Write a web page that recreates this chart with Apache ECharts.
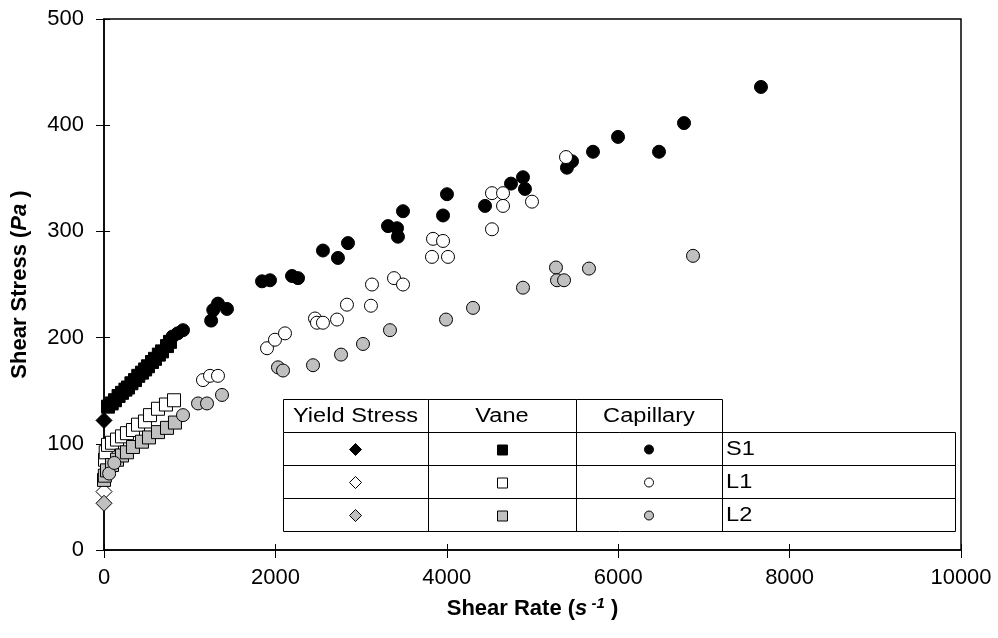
<!DOCTYPE html>
<html>
<head>
<meta charset="utf-8">
<script src="https://cdn.jsdelivr.net/npm/echarts@6/dist/echarts.min.js"></script>
<style>
  html, body { margin: 0; padding: 0; background: #fff; }
  #main { width: 998px; height: 638px; }
</style>
</head>
<body>
<div id="main"></div>
<script>
// values: [shear rate (1/s), shear stress (Pa)]
const yieldS1 = [[0, 122]]
const yieldL1 = [[0, 55]]
const yieldL2 = [[0, 44]]

const vaneS1 = [[47, 135], [90, 138], [128, 141], [170, 145], [210, 148], [250, 151], [280, 153], [320, 157], [362, 160], [400, 164],
  [443, 167], [480, 170], [513, 173], [560, 177], [595, 180], [640, 184], [677, 187], [735, 192], [770, 196]]
const vaneL1 = [[12, 85], [20, 92], [47, 99], [93, 101], [152, 104], [210, 107], [268, 110], [338, 113], [397, 118],
  [478, 121], [537, 127], [630, 133], [723, 137], [817, 141]]
const vaneL2 = [[0, 66], [10, 70], [35, 75], [93, 80], [152, 85], [210, 89], [268, 92], [338, 97], [443, 102],
  [525, 106], [630, 111], [735, 115], [828, 120]]

const capS1 = [[800, 201], [860, 204], [922, 207], [1250, 216], [1275, 226], [1330, 232], [1435, 227], [1844, 253], [1937, 254],
  [2194, 258], [2264, 256], [2555, 282], [2730, 275], [2847, 289], [3314, 305], [3419, 303], [3430, 295],
  [3489, 319], [3956, 315], [4002, 335], [4446, 324], [4749, 345], [4889, 351], [4912, 340], [5402, 360],
  [5461, 366], [5706, 375], [5998, 389], [6476, 375], [6768, 402], [7666, 436]]
const capL1 = [[1155, 160], [1237, 164], [1330, 164], [1902, 190], [1995, 198], [2112, 204], [2462, 218], [2485, 214],
  [2555, 214], [2719, 217], [2835, 231], [3115, 230], [3127, 250], [3384, 256], [3489, 250], [3839, 293],
  [3956, 291], [3827, 276], [4014, 276], [4527, 302], [4527, 336], [4656, 336], [4656, 324], [4994, 328], [5391, 370]]
const capL2 = [[60, 72], [120, 82], [922, 127], [1097, 138], [1202, 138], [1377, 146], [2030, 172], [2089, 169],
  [2439, 174], [2766, 184], [3022, 194], [3337, 207], [3991, 217], [4306, 228], [4889, 247], [5274, 266],
  [5286, 254], [5368, 254], [5659, 265], [6873, 277]]

const xTicks = [0, 2000, 4000, 6000, 8000, 10000]
const yTicks = [0, 100, 200, 300, 400, 500]
const tableCols = ['Yield Stress', 'Vane', 'Capillary']
const tableRows = ['S1', 'L1', 'L2']

const BLACK = '#000000'
const WHITE = '#ffffff'
const GREY = '#c0c0c0'
const FONT = 'Liberation Sans, Arial, sans-serif'

function pts (name, data, symbol, fill, size) {
  return {
    name: name,
    type: 'scatter',
    data: data,
    symbol: symbol,
    symbolSize: size,
    itemStyle: { color: fill, borderColor: BLACK, borderWidth: 1, opacity: 1 },
    emphasis: { disabled: true }
  }
}

// legend table (drawn as graphic), pixel layout
const tbl = { left: 283, right: 955, top: 399, head: 432, rowH: 33, cols: [283, 428, 576, 722] }
const legendSyms = ['diamond', 'rect', 'circle']
const legendFill = [BLACK, WHITE, GREY]
const symSize = { diamond: 6, rect: 5, circle: 4.5 }

function tableGraphic () {
  const g = []
  const lineStyle = { stroke: BLACK, lineWidth: 1 }
  // header cells
  for (let i = 0; i < 3; i++) {
    g.push({ type: 'rect', shape: { x: tbl.cols[i] + 0.5, y: tbl.top + 0.5, width: tbl.cols[i + 1] - tbl.cols[i], height: tbl.head - tbl.top }, style: { fill: WHITE, ...lineStyle } })
    g.push({ type: 'text', x: (tbl.cols[i] + tbl.cols[i + 1]) / 2, y: (tbl.top + tbl.head) / 2 + 1, scaleX: 1.18, style: { text: tableCols[i], font: '20px ' + FONT, fill: BLACK, align: 'center', verticalAlign: 'middle' } })
  }
  // body
  const bodyBottom = tbl.head + tbl.rowH * 3
  g.push({ type: 'rect', shape: { x: tbl.left + 0.5, y: tbl.head + 0.5, width: tbl.right - tbl.left, height: bodyBottom - tbl.head }, style: { fill: WHITE, ...lineStyle } })
  for (let r = 1; r < 3; r++) {
    const y = tbl.head + tbl.rowH * r + 0.5
    g.push({ type: 'line', shape: { x1: tbl.left, y1: y, x2: tbl.right, y2: y }, style: lineStyle })
  }
  for (let c = 1; c < 4; c++) {
    const x = tbl.cols[c] + 0.5
    g.push({ type: 'line', shape: { x1: x, y1: tbl.head, x2: x, y2: bodyBottom }, style: lineStyle })
  }
  for (let r = 0; r < 3; r++) {
    const cy = tbl.head + tbl.rowH * r + tbl.rowH / 2 + 1
    g.push({ type: 'text', x: tbl.cols[3] + 4, y: cy, scaleX: 1.18, style: { text: tableRows[r], font: '20px ' + FONT, fill: BLACK, align: 'left', verticalAlign: 'middle' } })
    for (let c = 0; c < 3; c++) {
      const cx = (tbl.cols[c] + tbl.cols[c + 1]) / 2
      const s = legendSyms[c]
      const h = symSize[s]
      const st = { fill: legendFill[r], stroke: BLACK, lineWidth: 1 }
      if (s === 'diamond') {
        g.push({ type: 'polygon', shape: { points: [[cx, cy - h], [cx + h, cy], [cx, cy + h], [cx - h, cy]] }, style: st })
      } else if (s === 'rect') {
        g.push({ type: 'rect', shape: { x: cx - h + 0.5, y: cy - h + 0.5, width: h * 2, height: h * 2 }, style: st })
      } else {
        g.push({ type: 'circle', shape: { cx: cx, cy: cy, r: h }, style: st })
      }
    }
  }
  return g
}

const chart = echarts.init(document.getElementById('main'), null, { renderer: 'canvas' })

const axisCommon = {
  axisLine: { show: true, lineStyle: { color: BLACK, width: 1.5 } },
  splitLine: { show: false }
}

const option = {
  animation: false,
  backgroundColor: WHITE,
  textStyle: { fontFamily: FONT },
  grid: { left: 104, right: 37, top: 19, bottom: 88, show: true, borderColor: BLACK, borderWidth: 1.5, backgroundColor: 'transparent' },
  xAxis: [
    {
      ...axisCommon,
      type: 'value', min: xTicks[0], max: xTicks[xTicks.length - 1], interval: 2000,
      axisTick: { show: true, inside: false, length: 8, lineStyle: { color: BLACK, width: 1 } },
      axisLabel: { color: BLACK, fontSize: 22, margin: 17, fontFamily: FONT, formatter: v => String(v) },
      name: '{b|Shear Rate (}{i|s}{sup| -1}{b| )}',
      nameLocation: 'middle',
      nameGap: 46,
      nameTextStyle: {
        rich: {
          b: { fontSize: 22, fontWeight: 'bold', fontFamily: FONT, color: BLACK },
          i: { fontSize: 22, fontWeight: 'bold', fontStyle: 'italic', fontFamily: FONT, color: BLACK },
          sup: { fontSize: 15, fontWeight: 'bold', fontStyle: 'italic', fontFamily: FONT, color: BLACK, padding: [0, 0, 11, 0] }
        }
      }
    },
    {
      type: 'value', min: xTicks[0], max: xTicks[xTicks.length - 1], interval: 2000, position: 'bottom',
      axisLine: { show: false }, axisLabel: { show: false }, splitLine: { show: false },
      axisTick: { show: true, inside: true, length: 6, lineStyle: { color: BLACK, width: 1 } }
    }
  ],
  yAxis: [
    {
      ...axisCommon,
      type: 'value', min: yTicks[0], max: yTicks[yTicks.length - 1], interval: 100,
      axisTick: { show: true, inside: false, length: 8, lineStyle: { color: BLACK, width: 1 } },
      axisLabel: { color: BLACK, fontSize: 22, margin: 20, fontFamily: FONT, formatter: v => String(v) },
      name: '{b|Shear Stress (}{i|Pa}{b| )}',
      nameLocation: 'middle',
      nameGap: 73,
      nameRotate: 90,
      nameTextStyle: {
        rich: {
          b: { fontSize: 22, fontWeight: 'bold', fontFamily: FONT, color: BLACK },
          i: { fontSize: 22, fontWeight: 'bold', fontStyle: 'italic', fontFamily: FONT, color: BLACK }
        }
      }
    },
    {
      type: 'value', min: yTicks[0], max: yTicks[yTicks.length - 1], interval: 100, position: 'left',
      axisLine: { show: false }, axisLabel: { show: false }, splitLine: { show: false },
      axisTick: { show: true, inside: true, length: 6, lineStyle: { color: BLACK, width: 1 } }
    }
  ],
  series: [
    pts('S1 Yield Stress', yieldS1, 'diamond', BLACK, 16),
    pts('S1 Vane', vaneS1, 'rect', BLACK, 13),
    pts('S1 Capillary', capS1, 'circle', BLACK, 13),
    pts('L1 Yield Stress', yieldL1, 'diamond', WHITE, 16),
    pts('L1 Vane', vaneL1, 'rect', WHITE, 13),
    pts('L1 Capillary', capL1, 'circle', WHITE, 13),
    pts('L2 Yield Stress', yieldL2, 'diamond', GREY, 16),
    pts('L2 Vane', vaneL2, 'rect', GREY, 13),
    pts('L2 Capillary', capL2, 'circle', GREY, 13)
  ],
  graphic: tableGraphic()
}

chart.setOption(option)
</script>
</body>
</html>
